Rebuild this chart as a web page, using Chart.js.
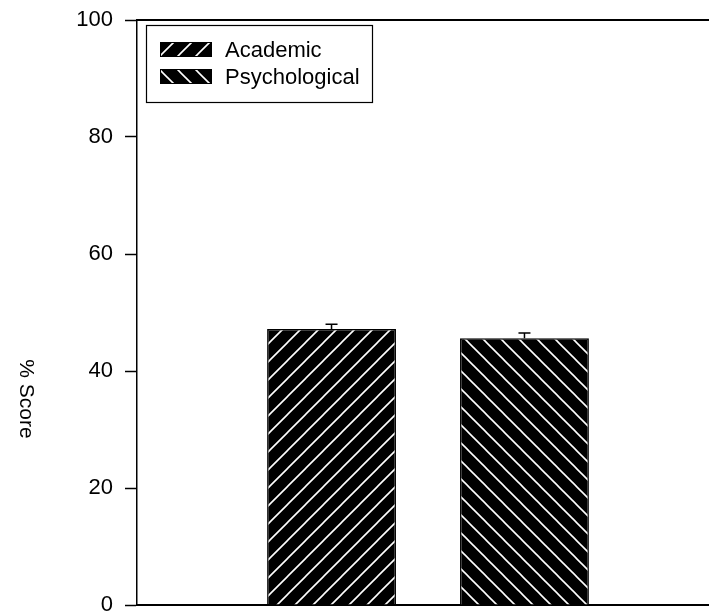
<!DOCTYPE html>
<html>
<head>
<meta charset="utf-8">
<script src="https://cdn.jsdelivr.net/npm/chart.js@4/dist/chart.umd.min.js"></script>
<style>
  html, body { margin: 0; padding: 0; background: #fff; overflow: hidden; }
  #wrap { width: 719px; height: 613px; }
</style>
</head>
<body>
<div id="wrap"><canvas id="c" width="719" height="613"></canvas></div>
<script>
// Mean % score per questionnaire, with the upper standard error
const categories = [''];
const seriesNames = ['Academic', 'Psychological'];
const meanScores = [47.2, 45.6];
const stdErrors = [0.8, 0.9];
const yTickValues = [0, 20, 40, 60, 80, 100];
const yTitle = '% Score';

const FONT = '"Liberation Sans", Arial, Helvetica, sans-serif';

// black fill with white diagonal hatching; dir 1 = "/", -1 = "\"
function hatch(dir) {
  const s = 18;
  const c = document.createElement('canvas');
  c.width = s; c.height = s;
  const g = c.getContext('2d');
  g.fillStyle = '#000';
  g.fillRect(0, 0, s, s);
  g.strokeStyle = '#fff';
  g.lineWidth = 1.6;
  g.lineCap = 'square';
  const segs = dir > 0
    ? [[-2, s + 2, s + 2, -2], [-2, 2, 2, -2], [s - 2, s + 2, s + 2, s - 2]]
    : [[-2, -2, s + 2, s + 2], [s - 2, -2, s + 2, 2], [-2, s - 2, 2, s + 2]];
  segs.forEach(([x1, y1, x2, y2]) => {
    g.beginPath(); g.moveTo(x1, y1); g.lineTo(x2, y2); g.stroke();
  });
  return g.createPattern(c, 'repeat');
}

const ctx0 = document.getElementById('c').getContext('2d');
const patterns = [hatch(1), hatch(-1)];

const datasets = seriesNames.map((name, i) => ({
  label: name,
  data: [meanScores[i]],
  backgroundColor: patterns[i],
  borderColor: '#000',
  borderWidth: 1.5,
  errorValue: stdErrors[i]
}));

// upward error whiskers with a short cap
const errorBars = {
  id: 'errorBars',
  afterDatasetsDraw(chart) {
    const { ctx, scales: { y } } = chart;
    ctx.save();
    ctx.strokeStyle = '#000';
    ctx.lineWidth = 1.5;
    chart.data.datasets.forEach((ds, i) => {
      const bar = chart.getDatasetMeta(i).data[0];
      const top = y.getPixelForValue(ds.data[0] + ds.errorValue);
      ctx.beginPath();
      ctx.moveTo(bar.x, bar.y);
      ctx.lineTo(bar.x, top);
      ctx.moveTo(bar.x - 6, top);
      ctx.lineTo(bar.x + 6, top);
      ctx.stroke();
    });
    ctx.restore();
  }
};

// top frame line, rotated axis title and boxed legend
const decorations = {
  id: 'decorations',
  afterDraw(chart) {
    const { ctx, chartArea: a } = chart;
    ctx.save();
    ctx.strokeStyle = '#000';
    ctx.lineWidth = 2;
    ctx.beginPath();
    ctx.moveTo(a.left, a.top);
    ctx.lineTo(a.right, a.top);
    ctx.stroke();

    // axis title, reading top to bottom
    ctx.save();
    ctx.translate(26, 399);
    ctx.rotate(Math.PI / 2);
    ctx.fillStyle = '#000';
    ctx.font = '21px ' + FONT;
    ctx.textAlign = 'center';
    ctx.textBaseline = 'middle';
    ctx.fillText(yTitle, 0, 0);
    ctx.restore();

    // legend
    const lx = 146, ly = 25, lw = 226, lh = 77;
    ctx.fillStyle = '#fff';
    ctx.fillRect(lx, ly, lw, lh);
    ctx.lineWidth = 1.2;
    ctx.strokeRect(lx + 0.5, ly + 0.5, lw, lh);
    ctx.font = '22px ' + FONT;
    ctx.textAlign = 'left';
    ctx.textBaseline = 'alphabetic';
    chart.data.datasets.forEach((ds, i) => {
      const sy = 42 + i * 27;
      ctx.fillStyle = ds.backgroundColor;
      ctx.fillRect(160, sy, 52, 15);
      ctx.lineWidth = 1;
      ctx.strokeRect(160.5, sy + 0.5, 51, 14);
      ctx.fillStyle = '#000';
      ctx.fillText(ds.label, 225, sy + 15);
    });
    ctx.restore();
  }
};

new Chart(ctx0, {
  type: 'bar',
  data: { labels: categories, datasets },
  options: {
    responsive: false,
    animation: false,
    devicePixelRatio: 1,
    layout: { padding: { left: 0, right: 0, top: 20, bottom: 0 } },
    datasets: { bar: { categoryPercentage: 0.663, barPercentage: 0.668 } },
    plugins: { legend: { display: false }, tooltip: { enabled: false } },
    scales: {
      x: {
        ticks: { display: false },
        grid: { display: false },
        border: { color: '#000', width: 2 }
      },
      y: {
        min: 0,
        max: 100,
        afterBuildTicks(scale) {
          scale.ticks = yTickValues.map(v => ({ value: v }));
        },
        afterFit(scale) {
          scale.width = 137;
          scale.paddingTop = 0;
          scale.paddingBottom = 0;
        },
        ticks: {
          color: '#000',
          padding: 12,
          font: { family: FONT, size: 22 }
        },
        grid: {
          drawOnChartArea: false,
          drawTicks: true,
          tickLength: 12,
          tickWidth: 1.5,
          tickColor: '#000'
        },
        border: { color: '#000', width: 1.5 }
      }
    }
  },
  plugins: [errorBars, decorations]
});
</script>
</body>
</html>
